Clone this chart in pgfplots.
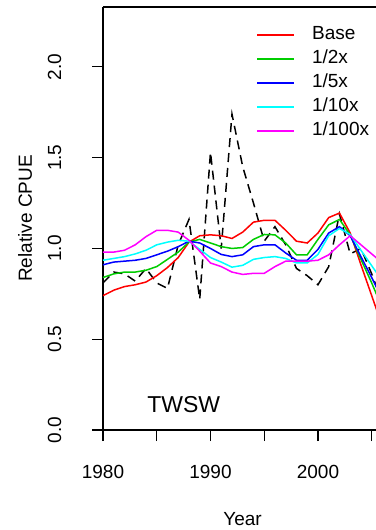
\documentclass[border=0pt]{standalone}
\usepackage{pgfplots}
\pgfplotsset{compat=1.18}
\usepackage{fontspec}
\setmainfont{Liberation Sans}
\definecolor{rgreen}{RGB}{0,205,0}
\definecolor{rcyan}{RGB}{0,255,255}
\definecolor{rmag}{RGB}{255,0,255}

\pgfplotstableread{
year obs base half fifth tenth hundredth
1980 0.81 0.74 0.84 0.91 0.935 0.98
1981 0.87 0.77 0.86 0.925 0.945 0.98
1982 0.86 0.79 0.87 0.93 0.955 0.99
1983 0.82 0.80 0.87 0.935 0.97 1.02
1984 0.89 0.815 0.88 0.945 0.99 1.065
1985 0.81 0.85 0.90 0.965 1.02 1.10
1986 0.78 0.895 0.94 0.985 1.035 1.10
1987 1.02 0.95 0.98 1.01 1.045 1.09
1988 1.16 1.035 1.035 1.04 1.04 1.045
1989 0.72 1.07 1.05 1.03 0.995 0.985
1990 1.53 1.075 1.03 1.0 0.95 0.92
1991 1.00 1.07 1.01 0.967 0.925 0.90
1992 1.74 1.055 1.0 0.955 0.897 0.87
1993 1.45 1.09 1.005 0.965 0.907 0.857
1994 1.25 1.145 1.05 1.01 0.94 0.863
1995 1.04 1.155 1.077 1.02 0.95 0.863
1996 1.12 1.155 1.075 1.02 0.955 0.90
1997 1.02 1.10 1.03 0.975 0.945 0.93
1998 0.89 1.04 0.965 0.935 0.92 0.93
1999 0.85 1.03 0.965 0.935 0.92 0.93
2000 0.80 1.085 1.05 0.995 0.967 0.935
2001 0.90 1.17 1.13 1.085 1.07 0.965
2002 1.19 1.195 1.16 1.12 1.11 1.02
2003 0.97 1.085 1.075 1.07 1.077 1.07
2004 1.00 0.91 0.94 0.955 0.99 1.02
2005 0.86 0.74 0.81 0.84 0.905 0.97
2006 0.70 0.57 0.67 0.72 0.82 0.92
}\cpue

\begin{document}
\begin{tikzpicture}
\begin{axis}[
  scale only axis, width=273bp, height=423bp,
  xmin=1980, xmax=2005.4, ymin=0, ymax=2.33,
  axis x line*=box, axis y line*=left,
  xtick pos=lower, ytick pos=left,
  axis line style={line width=1.1bp},
  tick style={black, line width=1.1bp},
  tick align=outside, major tick length=11bp,
  xtick={1980,1985,1990,1995,2000,2005},
  xticklabels={1980,,1990,,2000,},
  ytick={0,0.5,1,1.5,2},
  yticklabels={0.0,0.5,1.0,1.5,2.0},
  /pgf/number format/assume math mode=true,
  tick label style={font=\fontsize{19bp}{22bp}\selectfont},
  xticklabel style={anchor=base, yshift=-37bp},
  yticklabel style={xshift=-31bp, rotate=90, anchor=base},
  every axis x label/.style={at={([yshift=-95bp]rel axis cs:0.511,0)}, anchor=base},
  every axis y label/.style={at={([xshift=-71bp]rel axis cs:0,0.5)}, rotate=90, anchor=base},
  label style={font=\fontsize{19bp}{23bp}\selectfont},
  xlabel={Year}, ylabel={Relative CPUE},
  legend style={at={(rel axis cs:0.55,0.968)}, anchor=north west, draw=none, fill=none,
    font=\fontsize{19bp}{22bp}\selectfont, row sep=0bp,
    nodes={text height=14bp, text depth=4bp, inner sep=3bp}},
  legend cell align=left,
  legend image code/.code={\draw[#1, line width=2bp] (0bp,0bp) -- (37bp,0bp); \path (51bp,0bp);},
  every axis plot/.append style={line width=1.5bp},
]
\addplot[black, dash pattern=on 9bp off 6bp, forget plot] table[x=year, y=obs] {\cpue};
\addplot[red] table[x=year, y=base] {\cpue};
\addplot[rgreen] table[x=year, y=half] {\cpue};
\addplot[blue] table[x=year, y=fifth] {\cpue};
\addplot[rcyan] table[x=year, y=tenth] {\cpue};
\addplot[rmag] table[x=year, y=hundredth] {\cpue};
\legend{Base,1/2x,1/5x,1/10x,1/100x}
\node[anchor=base west, font=\fontsize{23bp}{27bp}\selectfont, inner sep=0pt] at (axis cs:1984.1,0.094) {TWSW};
\end{axis}
\pgfresetboundingbox
\useasboundingbox ([xshift=-103bp,yshift=-100bp]current axis.south west) rectangle ([yshift=7bp]current axis.north east);
\end{tikzpicture}
\end{document}
